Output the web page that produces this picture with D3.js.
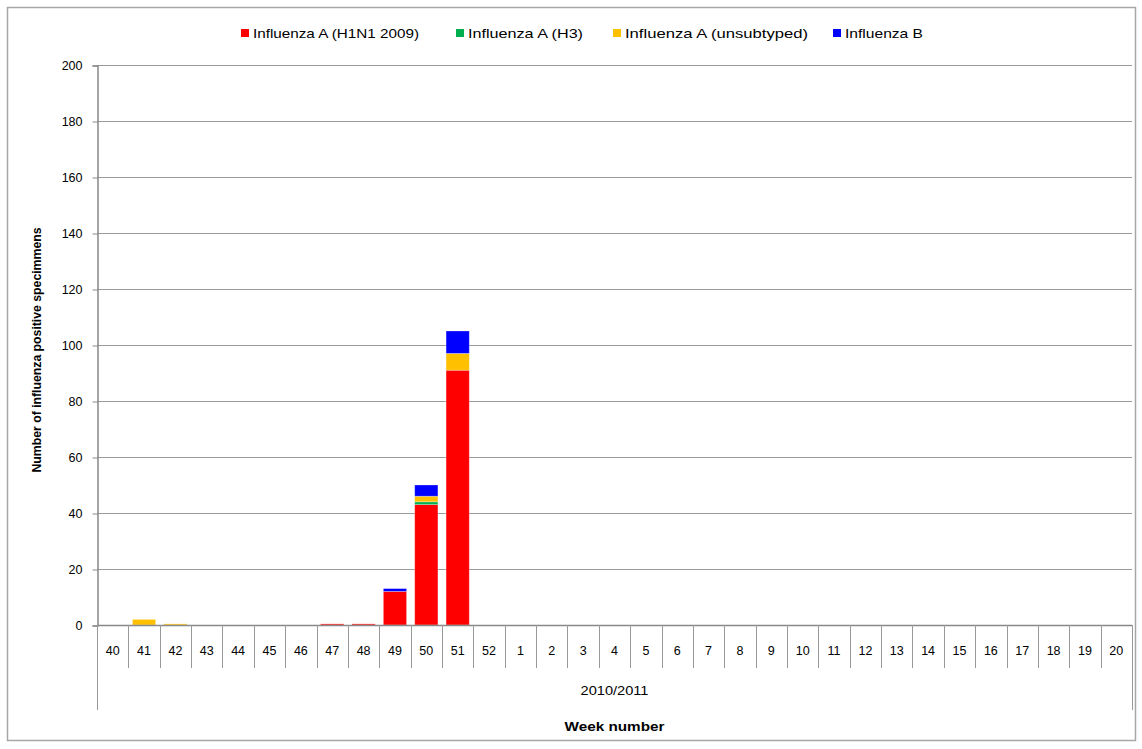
<!DOCTYPE html>
<html>
<head>
<meta charset="utf-8">
<script src="https://cdn.jsdelivr.net/npm/d3@7/dist/d3.min.js"></script>
<style>
  html, body { margin: 0; padding: 0; background: #fff; }
  svg { display: block; font-family: "Liberation Sans", Arial, sans-serif; }
</style>
</head>
<body>
<svg id="chart" width="1142" height="749"></svg>
<script>
// ---- Data ----
const weeks = ["40","41","42","43","44","45","46","47","48","49","50","51","52",
  "1","2","3","4","5","6","7","8","9","10","11","12","13","14","15","16","17","18","19","20"];
const h1n1  = [0,0,0,0,0,0,0,0.4,0.4,12,43,91,0, 0,0,0,0,0,0,0,0,0,0,0,0,0,0,0,0,0,0,0,0];
const h3    = [0,0,0,0,0,0,0,0,0,0,1,0,0, 0,0,0,0,0,0,0,0,0,0,0,0,0,0,0,0,0,0,0,0];
const unsub = [0,2,0.4,0,0,0,0,0,0,0,2,6,0, 0,0,0,0,0,0,0,0,0,0,0,0,0,0,0,0,0,0,0,0];
const fluB  = [0,0,0,0,0,0,0,0,0,1,4,8,0, 0,0,0,0,0,0,0,0,0,0,0,0,0,0,0,0,0,0,0,0];
const seriesNames = ["Influenza A (H1N1 2009)", "Influenza A (H3)", "Influenza A (unsubtyped)", "Influenza B"];
const yTicks = [0,20,40,60,80,100,120,140,160,180,200];
const seasonLabel = "2010/2011";
const xTitle = "Week number";
const yTitle = "Number of influenza positive specimmens";

// ---- Styles / layout ----
const colors = ["#FF0000", "#00B050", "#FFC000", "#0000FF"];
const pLeft = 97, pRight = 1132, pTop = 65, pBottom = 625;

const svg = d3.select("#chart");

// outer frame
svg.append("rect").attr("x", 7.5).attr("y", 7.5).attr("width", 1128).attr("height", 733)
  .attr("fill", "none").attr("stroke", "#a6a6a6").attr("stroke-width", 1.5);

const x = d3.scaleBand().domain(weeks).range([pLeft, pRight]).paddingInner(0.26).paddingOuter(0.13);
const y = d3.scaleLinear().domain([0, 200]).range([pBottom, pTop]);

// gridlines
svg.append("g").selectAll("line").data(yTicks.filter(t => t > 0)).join("line")
  .attr("x1", pLeft).attr("x2", pRight)
  .attr("y1", d => y(d) + 0.5).attr("y2", d => y(d) + 0.5)
  .attr("stroke", "#9a9a9a").attr("stroke-width", 1);

// y axis
const yAxis = d3.axisLeft(y).tickValues(yTicks).tickSize(5).tickPadding(10);
const gy = svg.append("g").attr("transform", `translate(${pLeft + 0.5},0.5)`).call(yAxis);
gy.select(".domain").attr("stroke", "#888").attr("stroke-width", 1.5);
gy.selectAll(".tick line").attr("stroke", "#888");
gy.selectAll(".tick text").attr("font-size", 12.5).attr("fill", "#000")
  .attr("font-family", "'Liberation Sans', Arial, sans-serif");

// stacked bars
const table = weeks.map((w, i) => ({ week: w, s0: h1n1[i], s1: h3[i], s2: unsub[i], s3: fluB[i] }));
const stack = d3.stack().keys(["s0", "s1", "s2", "s3"]);
const stacked = stack(table);
svg.append("g").selectAll("g").data(stacked).join("g")
  .attr("fill", (d, i) => colors[i])
  .selectAll("rect").data(d => d.filter(p => p[1] - p[0] > 0)).join("rect")
  .attr("x", d => x(d.data.week))
  .attr("width", x.bandwidth())
  .attr("y", d => y(d[1]))
  .attr("height", d => y(d[0]) - y(d[1]))
  .attr("stroke", "#fff").attr("stroke-opacity", 0.35).attr("stroke-width", 0.8);

// x axis baseline
svg.append("line").attr("x1", pLeft).attr("x2", pRight).attr("y1", pBottom + 0.5).attr("y2", pBottom + 0.5)
  .attr("stroke", "#888").attr("stroke-width", 1.5);

// category separators
const step = x.step();
const bounds = d3.range(weeks.length + 1).map(i => x(weeks[0]) - x.paddingOuter() * step + i * step);
svg.append("g").selectAll("line").data(bounds).join("line")
  .attr("x1", d => Math.round(d) + 0.5).attr("x2", d => Math.round(d) + 0.5)
  .attr("y1", pBottom).attr("y2", (d, i) => (i === 0 || i === weeks.length) ? 710 : 668)
  .attr("stroke", "#999").attr("stroke-width", 1);

// week labels
svg.append("g").selectAll("text").data(weeks).join("text")
  .attr("x", d => x(d) + x.bandwidth() / 2).attr("y", 655)
  .attr("text-anchor", "middle").attr("font-size", 12.5).attr("fill", "#000").text(d => d);

// season label
svg.append("text").attr("x", (pLeft + pRight) / 2).attr("y", 695).attr("text-anchor", "middle")
  .attr("font-size", 12.5).attr("fill", "#000")
  .attr("textLength", 68).attr("lengthAdjust", "spacingAndGlyphs").text(seasonLabel);

// x title
svg.append("text").attr("x", (pLeft + pRight) / 2).attr("y", 731).attr("text-anchor", "middle")
  .attr("font-size", 13).attr("font-weight", "bold").attr("fill", "#000")
  .attr("textLength", 100).attr("lengthAdjust", "spacingAndGlyphs").text(xTitle);

// y title
svg.append("text").attr("transform", `translate(41,350) rotate(-90)`)
  .attr("text-anchor", "middle").attr("font-size", 13).attr("font-weight", "bold")
  .attr("fill", "#000").attr("textLength", 245).attr("lengthAdjust", "spacingAndGlyphs")
  .text(yTitle);

// legend
const legendX = [241, 456, 613, 833];
const legendW = [166, 115, 183, 78];
const lg = svg.append("g").selectAll("g").data(seriesNames).join("g")
  .attr("transform", (d, i) => `translate(${legendX[i]},0)`);
lg.append("rect").attr("x", 0).attr("y", 29).attr("width", 8).attr("height", 8)
  .attr("fill", (d, i) => colors[i]);
lg.append("text").attr("x", 12).attr("y", 37.5).attr("font-size", 13).attr("fill", "#000")
  .attr("textLength", (d, i) => legendW[i]).attr("lengthAdjust", "spacingAndGlyphs")
  .text(d => d);
</script>
</body>
</html>
